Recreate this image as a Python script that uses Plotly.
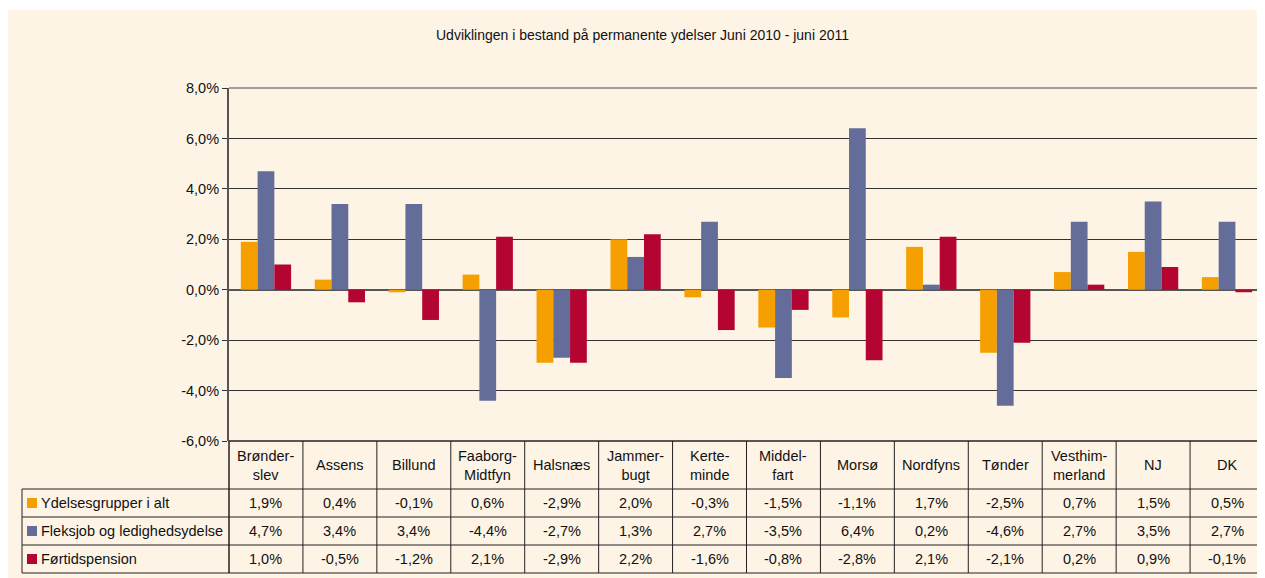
import plotly.graph_objects as go

title = "Udviklingen i bestand på permanente ydelser Juni 2010 - juni 2011"
categories = ["Brønderslev", "Assens", "Billund", "Faaborg-Midtfyn", "Halsnæs", "Jammerbugt",
              "Kerteminde", "Middelfart", "Morsø", "Nordfyns", "Tønder", "Vesthimmerland", "NJ", "DK"]
header_labels = ["Brønder-<br>slev", "Assens", "Billund", "Faaborg-<br>Midtfyn", "Halsnæs", "Jammer-<br>bugt",
                 "Kerte-<br>minde", "Middel-<br>fart", "Morsø", "Nordfyns", "Tønder", "Vesthim-<br>merland", "NJ", "DK"]
series_names = ["Ydelsesgrupper i alt", "Fleksjob og ledighedsydelse", "Førtidspension"]
ydelser = [1.9, 0.4, -0.1, 0.6, -2.9, 2.0, -0.3, -1.5, -1.1, 1.7, -2.5, 0.7, 1.5, 0.5]
fleksjob = [4.7, 3.4, 3.4, -4.4, -2.7, 1.3, 2.7, -3.5, 6.4, 0.2, -4.6, 2.7, 3.5, 2.7]
foertid = [1.0, -0.5, -1.2, 2.1, -2.9, 2.2, -1.6, -0.8, -2.8, 2.1, -2.1, 0.2, 0.9, -0.1]
tick_values = [-6, -4, -2, 0, 2, 4, 6, 8]
tick_labels = ["-6,0%", "-4,0%", "-2,0%", "0,0%", "2,0%", "4,0%", "6,0%", "8,0%"]
colors = ["#F5A000", "#646C9A", "#B40432"]
series_values = [ydelser, fleksjob, foertid]

OFF = 8  # page body margin
W, H = 1265 - OFF, 578 - OFF
# plot area in screenshot pixels
SL, SR, ST, SB = 229, 1264, 88, 441
L, R, T, B = SL - OFF, SR - OFF, ST - OFF, SB - OFF
FONT = "Arial, Liberation Sans, sans-serif"
FS = 14.5
BG = "#FDF4E6"
TXT = "#111111"

def px(x):  # screenshot x -> paper
    return (x - OFF - L) / (R - L)

def py(y):  # screenshot y -> paper
    return (B - (y - OFF)) / (B - T)

fig = go.Figure()
n = len(categories)
xs = list(range(n))
for name, vals, col in zip(series_names, series_values, colors):
    fig.add_trace(go.Bar(x=xs, y=vals, name=name, marker=dict(color=col, line=dict(width=0)),
                         showlegend=False))

shapes = []
annotations = []
shapes.append(dict(type="rect", xref="paper", yref="paper", x0=px(0), x1=px(1300), y0=py(10), y1=py(600),
                   fillcolor=BG, line=dict(width=0), layer="below"))
shapes.append(dict(type="line", xref="paper", yref="paper", x0=1, x1=1, y0=0, y1=1,
                   line=dict(color="#808080", width=1.5)))
shapes.append(dict(type="line", xref="paper", yref="paper", x0=0, x1=1, y0=1, y1=1,
                   line=dict(color="#808080", width=1.5)))

rows_y = [441, 489, 517, 545, 573]
LEFT = 22
line_col = "#222222"
shapes.append(dict(type="line", xref="paper", yref="paper", x0=0, x1=1, y0=py(rows_y[0]), y1=py(rows_y[0]),
                   line=dict(color=line_col, width=1.5)))
for yy in rows_y[1:]:
    shapes.append(dict(type="line", xref="paper", yref="paper", x0=px(LEFT), x1=1, y0=py(yy), y1=py(yy),
                       line=dict(color=line_col, width=1)))
shapes.append(dict(type="line", xref="paper", yref="paper", x0=px(LEFT), x1=px(LEFT), y0=py(rows_y[1]), y1=py(rows_y[-1]),
                   line=dict(color=line_col, width=1)))
for i in range(n + 1):
    xp = i / n
    shapes.append(dict(type="line", xref="paper", yref="paper", x0=xp, x1=xp, y0=py(rows_y[0]), y1=py(rows_y[-1]),
                       line=dict(color=line_col if i < n else "#808080", width=1.5 if i in (0, n) else 1)))
for i, lab in enumerate(header_labels):
    annotations.append(dict(xref="paper", yref="paper", x=(i + 0.5) / n, y=py((rows_y[0] + rows_y[1]) / 2),
                            text=lab, showarrow=False, xanchor="center", yanchor="middle",
                            font=dict(family=FONT, size=FS, color=TXT)))
for r, (name, vals, col) in enumerate(zip(series_names, series_values, colors)):
    yc = py((rows_y[r + 1] + rows_y[r + 2]) / 2)
    shapes.append(dict(type="rect", xref="paper", yref="paper", x0=px(27), x1=px(37),
                       y0=yc - 5 / (B - T), y1=yc + 5 / (B - T), fillcolor=col, line=dict(width=0)))
    annotations.append(dict(xref="paper", yref="paper", x=px(39), y=yc, text=name, showarrow=False,
                            xanchor="left", yanchor="middle", font=dict(family=FONT, size=FS, color=TXT)))
    for i, v in enumerate(vals):
        annotations.append(dict(xref="paper", yref="paper", x=(i + 0.5) / n, y=yc,
                                text=f"{v:.1f}%".replace(".", ","), showarrow=False,
                                xanchor="center", yanchor="middle",
                                font=dict(family=FONT, size=FS, color=TXT)))
annotations.append(dict(xref="paper", yref="paper", x=px(642), y=py(35), text=title, showarrow=False,
                        xanchor="center", yanchor="middle", font=dict(family=FONT, size=14, color=TXT)))

fig.update_layout(
    width=W, height=H,
    margin=dict(l=L, r=W - R, t=T, b=H - B, pad=0),
    paper_bgcolor="white", plot_bgcolor=BG,
    barmode="group", bargap=0.32, bargroupgap=0,
    separators=",.",
    shapes=shapes, annotations=annotations,
    font=dict(family=FONT, size=FS, color=TXT),
)
fig.update_xaxes(range=[-0.5, n - 0.5], showticklabels=False, showgrid=False, zeroline=False,
                 showline=False, ticks="")
fig.update_yaxes(range=[-6, 8], tickmode="array", tickvals=tick_values, ticktext=tick_labels,
                 showgrid=True, gridcolor="#333333", gridwidth=1,
                 zeroline=True, zerolinecolor="#555555", zerolinewidth=2,
                 showline=True, linecolor="#555555", linewidth=2,
                 ticks="outside", ticklen=5, tickcolor="#333333",
                 tickfont=dict(family=FONT, size=FS, color=TXT))

fig.write_html("out.html")
